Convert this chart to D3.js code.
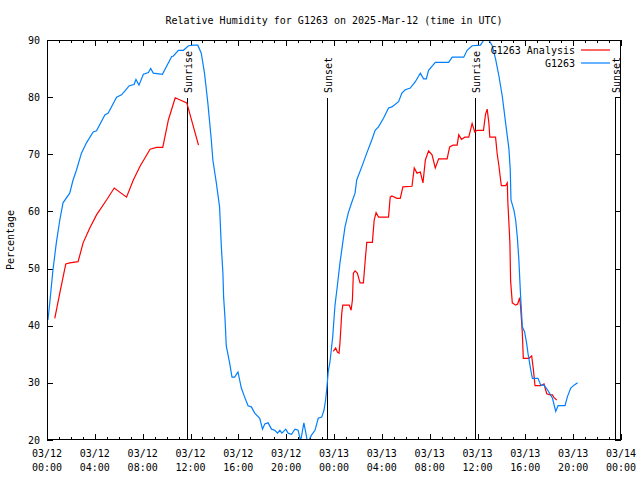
<!DOCTYPE html>
<html>
<head>
<meta charset="utf-8">
<script src="https://cdn.jsdelivr.net/npm/d3@7"></script>
<style>
  body { margin: 0; background: #fff; }
  text { font-family: "DejaVu Sans Mono", monospace; font-size: 10px; fill: #000; }
</style>
</head>
<body>
<div id="chart"></div>
<script>
// hours since 2025-03-12 00:00 UTC
const obsTime = [0.08, 0.23, 0.50, 0.78, 1.07, 1.34, 1.90, 2.18, 2.46, 2.88, 3.30, 3.86, 4.14, 4.84, 5.12, 5.82, 6.23, 6.52, 6.88, 7.28, 7.44, 7.69, 8.06, 8.48, 8.67, 8.89, 9.65, 10.43, 10.57, 10.99, 11.41, 11.83, 12.25, 12.61, 12.90, 13.17, 13.45, 13.74, 13.87, 14.16, 14.43, 14.58, 14.71, 14.77, 14.88, 14.99, 15.27, 15.47, 15.69, 15.97, 16.11, 16.25, 16.53, 16.81, 17.09, 17.37, 17.79, 18.02, 18.21, 18.49, 18.77, 19.05, 19.28, 19.47, 19.64, 19.97, 20.16, 20.45, 20.73, 21.00, 21.21, 21.48, 21.65, 21.79, 22.13, 22.41, 22.68, 22.97, 23.16, 23.30, 23.41, 23.52, 23.66, 23.89, 24.08, 24.28, 24.50, 24.73, 24.92, 25.20, 25.49, 25.76, 25.90, 26.32, 26.74, 27.16, 27.44, 27.72, 28.14, 28.56, 28.84, 29.40, 29.68, 29.96, 30.38, 30.80, 31.22, 31.49, 31.72, 31.91, 32.47, 33.59, 33.88, 34.85, 35.13, 35.55, 36.25, 36.53, 36.95, 37.23, 37.51, 37.79, 38.07, 38.35, 38.63, 38.74, 38.80, 39.05, 39.19, 39.33, 39.46, 39.55, 39.61, 39.75, 39.94, 40.11, 40.22, 40.45, 40.59, 41.06, 41.29, 41.56, 41.85, 42.27, 42.54, 42.74, 43.32, 43.52, 43.80, 44.07, 44.37];
const obsRH = [41.0, 44, 49.8, 54.5, 58.5, 61.5, 63.2, 65.5, 67.2, 70.2, 72, 73.9, 74.1, 76.9, 77.2, 80, 80.4, 81.1, 82, 82.2, 83.1, 82.1, 84, 84.3, 85, 84.2, 84, 87.1, 87.2, 88.2, 88.2, 89, 89.1, 89.1, 87.7, 84.2, 79, 72.5, 69, 65, 60.8, 53.8, 49.2, 45, 41.5, 36.5, 33.5, 31, 31, 31.9, 30.5, 29.1, 27.5, 26, 25.8, 24.7, 23.8, 21.9, 22.8, 23, 21.9, 21.7, 21.2, 21.7, 21.2, 21.9, 21.2, 21.0, 21.9, 21.7, 19.8, 23, 21.2, 19.5, 20.9, 21.7, 23.8, 24, 25.2, 27, 29.3, 32, 33.6, 38, 43.5, 47, 51, 54.5, 57.3, 59.8, 61.6, 63.2, 65.5, 67.8, 70.2, 72.5, 74.2, 74.8, 76.3, 78.1, 78.3, 79.2, 80.7, 81.3, 81.6, 82.7, 84.2, 83.2, 83.2, 84.7, 86.1, 86.1, 87, 87, 88.2, 89, 89.1, 90, 90, 89, 86.7, 83.7, 80.2, 75.5, 70.9, 67.2, 62, 60.2, 58.5, 55.5, 51.5, 47.5, 45, 39.8, 38.9, 36.9, 35.2, 32.3, 30.8, 30.8, 29.6, 29.6, 28.8, 27.3, 25, 26, 26, 27.6, 29.1, 29.6, 30];

const anaTime = [0.65, 1.07, 1.57, 1.90, 2.60, 3.02, 3.58, 4.14, 4.98, 5.62, 6.65, 7.22, 7.78, 8.62, 9.17, 9.68, 10.15, 10.72, 11.69, 12.67, null, 23.94, 24.14, 24.28, 24.42, 24.50, 24.65, 24.73, 25.28, 25.43, 25.54, 25.62, 25.76, 25.95, 26.18, 26.46, 26.60, 26.74, 27.21, 27.36, 27.52, 27.72, 28.56, 28.70, 28.84, 29.26, 29.54, 29.76, 30.52, 30.71, 30.94, 31.22, 31.44, 31.64, 31.91, 32.20, 32.47, 32.75, 33.46, 33.67, 33.96, 34.30, 34.43, 34.66, 34.94, 35.27, 35.55, 35.77, 35.97, 36.50, 36.67, 36.81, 36.95, 37.03, 37.51, 37.65, 37.79, 37.99, 38.35, 38.49, 38.54, 38.71, 38.77, 38.91, 39.19, 39.36, 39.53, 39.61, 39.75, 39.83, 40.30, 40.53, 40.67, 40.81, 41.29, 41.56, 41.79, 42.07, 42.27, 42.40, 42.63];
const anaRH = [41.3, 45.7, 50.8, 51.0, 51.2, 54.5, 57.1, 59.4, 62, 64.1, 62.5, 65.5, 67.9, 70.9, 71.2, 71.2, 76, 79.9, 79, 71.6, null, 35.5, 36.1, 35.4, 35.2, 37, 42.2, 43.6, 43.6, 42.7, 44.5, 49.2, 49.6, 49.2, 47.5, 47.5, 51.2, 54.6, 54.6, 58.5, 59.8, 59, 59, 62.5, 62.7, 62.3, 62.3, 64.3, 64.4, 67.6, 66.7, 66.9, 65, 69, 70.6, 69.9, 67.6, 69.2, 69.2, 71.3, 71.6, 71.6, 73.4, 72.6, 73, 73, 75.4, 73.9, 74.2, 74.2, 77, 77.9, 75.5, 73, 73, 70, 68, 64.5, 64.5, 65, 61.5, 54.5, 47.8, 44, 43.6, 43.8, 44.9, 43.1, 38.7, 34.3, 34.3, 34.7, 32.4, 29.5, 29.5, 29.8, 28.1, 27.9, 27.9, 27.4, 27];

const markerNames = ['Sunrise', 'Sunset', 'Sunrise', 'Sunset'];
const markerTimes = [11.73, 23.44, 35.81, 47.52];
const yTicks = [20, 30, 40, 50, 60, 70, 80, 90];
const seriesNames = ['G1263 Analysis', 'G1263'];
const seriesColors = ['#ff0000', '#0080ff'];

const width = 640, height = 480;
const margin = { top: 40, right: 19, bottom: 40, left: 47 };
const t0 = Date.UTC(2025, 2, 12);
const toDate = h => new Date(t0 + h * 3600e3);

const svg = d3.select('#chart').append('svg')
    .attr('width', width)
    .attr('height', height);

const x = d3.scaleUtc()
    .domain([toDate(0), toDate(48)])
    .range([margin.left, width - margin.right]);
const y = d3.scaleLinear()
    .domain([20, 90])
    .range([height - margin.bottom, margin.top]);

svg.append('defs').append('clipPath').attr('id', 'plot-clip')
    .append('rect')
    .attr('x', margin.left).attr('y', margin.top)
    .attr('width', width - margin.left - margin.right)
    .attr('height', height - margin.top - margin.bottom);

// tick marks, inward on all four sides
const hourTicks = d3.utcHour.every(1).range(toDate(0), toDate(48.01));
const majorTicks = d3.utcHour.every(4).range(toDate(0), toDate(48.01));

const tickAxis = (axisFn, scale, ticks, size, transform) => {
    svg.append('g')
        .attr('transform', transform)
        .call(axisFn(scale).tickValues(ticks).tickSize(size).tickFormat(''))
        .call(g => g.select('.domain').remove())
        .call(g => g.selectAll('line').attr('shape-rendering', 'crispEdges'));
};
tickAxis(d3.axisBottom, x, hourTicks, -3, `translate(0,${height - margin.bottom})`);
tickAxis(d3.axisBottom, x, majorTicks, -6, `translate(0,${height - margin.bottom})`);
tickAxis(d3.axisTop, x, hourTicks, -3, `translate(0,${margin.top})`);
tickAxis(d3.axisTop, x, majorTicks, -6, `translate(0,${margin.top})`);
tickAxis(d3.axisLeft, y, yTicks, -6, `translate(${margin.left},0)`);
tickAxis(d3.axisRight, y, yTicks, -6, `translate(${width - margin.right},0)`);

// y tick labels
svg.append('g').selectAll('text')
    .data(yTicks)
    .join('text')
    .attr('x', margin.left - 7)
    .attr('y', d => y(d))
    .attr('dy', '0.35em')
    .attr('text-anchor', 'end')
    .text(d => d);

// x tick labels on two lines
const fmtDay = d3.utcFormat('%m/%d');
const fmtTime = d3.utcFormat('%H:%M');
const xl = svg.append('g').selectAll('text')
    .data(majorTicks)
    .join('text')
    .attr('text-anchor', 'middle')
    .attr('x', d => x(d));
xl.append('tspan').attr('x', d => x(d)).attr('y', 457).text(fmtDay);
xl.append('tspan').attr('x', d => x(d)).attr('y', 471).text(fmtTime);

// sunrise / sunset markers
const mk = svg.append('g');
markerTimes.forEach((h, i) => {
    const mx = Math.round(x(toDate(h))) + 0.5;
    mk.append('line')
        .attr('x1', mx).attr('x2', mx)
        .attr('y1', 98).attr('y2', height - margin.bottom)
        .attr('stroke', '#000')
        .attr('stroke-width', 1);
    mk.append('text')
        .attr('transform', `translate(${mx + 4},93) rotate(-90)`)
        .text(markerNames[i]);
});

// data lines
const line = d3.line()
    .defined(d => d[0] != null)
    .x(d => x(toDate(d[0])))
    .y(d => y(d[1]));

const plot = svg.append('g').attr('clip-path', 'url(#plot-clip)');
plot.append('path')
    .datum(anaTime.map((t, i) => [t, anaRH[i]]))
    .attr('fill', 'none')
    .attr('stroke', seriesColors[0])
    .attr('stroke-width', 1.2)
    .attr('d', line);
plot.append('path')
    .datum(obsTime.map((t, i) => [t, obsRH[i]]))
    .attr('fill', 'none')
    .attr('stroke', seriesColors[1])
    .attr('stroke-width', 1.2)
    .attr('d', line);

// border
svg.append('rect')
    .attr('x', margin.left + 0.5).attr('y', margin.top + 0.5)
    .attr('width', width - margin.left - margin.right - 1)
    .attr('height', height - margin.top - margin.bottom - 1)
    .attr('fill', 'none')
    .attr('stroke', '#000')
    .attr('shape-rendering', 'crispEdges');

// legend
const lg = svg.append('g');
seriesNames.forEach((name, i) => {
    const ly = 50 + i * 13;
    lg.append('text')
        .attr('x', 575).attr('y', ly)
        .attr('dy', '0.35em')
        .attr('text-anchor', 'end')
        .text(name);
    lg.append('line')
        .attr('x1', 581).attr('x2', 610)
        .attr('y1', ly).attr('y2', ly)
        .attr('stroke', seriesColors[i])
        .attr('stroke-width', 1.2);
});

// title and y label
svg.append('text')
    .attr('x', (margin.left + width - margin.right) / 2)
    .attr('y', 20)
    .attr('dy', '0.35em')
    .attr('text-anchor', 'middle')
    .text('Relative Humidity for G1263 on 2025-Mar-12 (time in UTC)');

svg.append('text')
    .attr('transform', `translate(14,${(margin.top + height - margin.bottom) / 2}) rotate(-90)`)
    .attr('text-anchor', 'middle')
    .text('Percentage');
</script>
</body>
</html>
